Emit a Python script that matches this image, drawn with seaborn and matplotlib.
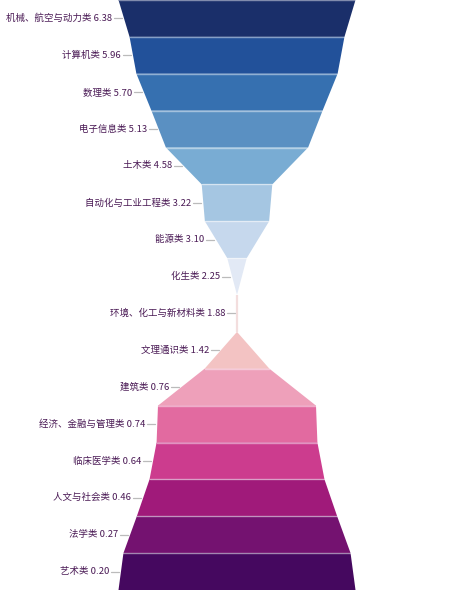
import matplotlib
matplotlib.use("Agg")
import matplotlib.pyplot as plt
import seaborn as sns
import numpy as np

sns.set_theme(style="white")
plt.rcParams['font.family'] = ['Noto Sans CJK SC', 'DejaVu Sans']

categories = ["机械、航空与动力类", "计算机类", "数理类", "电子信息类", "土木类",
              "自动化与工业工程类", "能源类", "化生类", "环境、化工与新材料类",
              "文理通识类", "建筑类", "经济、金融与管理类", "临床医学类",
              "人文与社会类", "法学类", "艺术类"]
values = [6.38, 5.96, 5.70, 5.13, 4.58, 3.22, 3.10, 2.25, 1.88,
          1.42, 0.76, 0.74, 0.64, 0.46, 0.27, 0.20]
colors = ["#1a2f6a", "#22519a", "#3670b0", "#5a90c2", "#79acd3", "#a5c6e2",
          "#c6d8ed", "#e2e9f5", "#f3dede",
          "#f3c3c3", "#eea0ba", "#e26aa0", "#cc3c8e", "#a01a7a", "#741270", "#45085f"]

fig = plt.figure(figsize=(4.5, 6), dpi=100)
ax = fig.add_axes([0, 0, 1, 1])
ax.set_xlim(0, 450)
ax.set_ylim(600, 0)
ax.axis("off")

n = len(values)
pivot_i = 8
pivot = values[pivot_i]
cx = 237.0
max_w = 237.0
seg_h = 590.0 / n

upper = [v - pivot for v in values[:pivot_i + 1]]
lower = [pivot - v for v in values[pivot_i:]]
ku = max_w / max(upper)
kl = max_w / max(lower)

def width(i):
    if i <= pivot_i:
        return (values[i] - pivot) * ku
    return (pivot - values[i]) * kl

for i, (cat, v, c) in enumerate(zip(categories, values, colors)):
    y0 = i * seg_h
    y1 = (i + 1) * seg_h
    if i < pivot_i:
        wt, wb = width(i), width(i + 1)
    elif i == pivot_i:
        wt, wb = 0.0, 0.0
    else:
        wt, wb = width(i - 1), width(i)
    xs = [cx - wt / 2, cx + wt / 2, cx + wb / 2, cx - wb / 2]
    ys = [y0, y0, y1, y1]
    if i == pivot_i:
        ax.plot([cx, cx], [y0, y1], color=c, lw=1.6, solid_capstyle="butt")
    else:
        ax.fill(xs, ys, color=c, lw=0)
        ax.plot([cx - wt / 2, cx + wt / 2], [y0, y0], color="white", alpha=0.45, lw=1.0)
    ym = (y0 + y1) / 2
    edge = cx - (wt + wb) / 4
    ax.plot([edge - 10, edge - 2], [ym, ym], color="#bbbbbb", lw=0.9)
    ax.text(edge - 12, ym, f"{cat} {v:.2f}", ha="right", va="center",
            fontsize=6.8, color="#4a1a55", fontweight="medium")

fig.savefig("out.png", dpi=100)
